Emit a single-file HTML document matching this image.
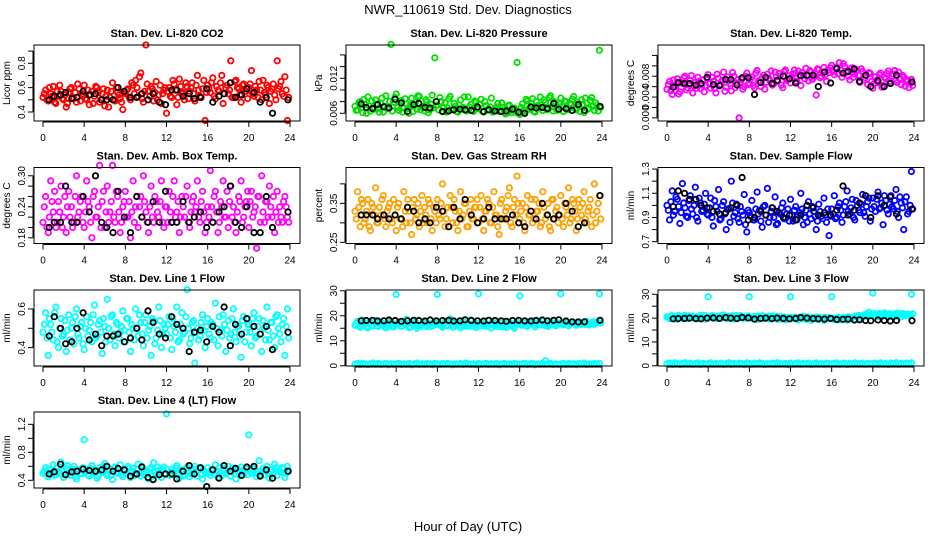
<!DOCTYPE html>
<html><head><meta charset="utf-8">
<style>
html,body{margin:0;padding:0;background:#fff;}
svg{display:block;font-family:"Liberation Sans",Arial,sans-serif;}
</style></head>
<body>
<svg id="chart" width="936" height="540" viewBox="0 0 936 540" xmlns="http://www.w3.org/2000/svg">
<text x="468" y="14" text-anchor="middle" font-size="13">NWR_110619  Std. Dev. Diagnostics</text>
<text x="468" y="531" text-anchor="middle" font-size="13">Hour of Day (UTC)</text>
</svg>
<script>
const xTicks=[0,4,8,12,16,20,24];
const blackHours=[0.6,1.1,1.7,2.2,2.8,3.3,3.9,4.5,5.1,5.7,6.2,6.8,7.3,7.9,8.5,9.1,9.6,10.2,10.7,11.3,11.9,12.5,13.0,13.6,14.2,14.7,15.3,15.9,16.5,17.1,17.6,18.2,18.7,19.3,19.8,20.5,21.1,21.7,22.3,23.8];

const co2=[.52,.58,.49,.55,.61,.47,.53,.57,.50,.44,.56,.60,.51,.48,.59,.54,
.62,.50,.46,.57,.53,.60,.48,.55,.45,.58,.52,.64,.49,.56,.51,.42,
.55,.59,.50,.62,.66,.53,.72,.48,.95,.57,.61,.49,.65,.54,.47,.58,
.39,.60,.52,.63,.46,.67,.55,.50,.61,.57,.64,.49,.70,.53,.59,.33,
.62,.56,.68,.51,.58,.64,.47,.60,.55,.82,.52,.66,.59,.48,.63,.57,
.60,.74,.53,.58,.65,.50,.56,.62,.47,.59,.54,.82,.61,.55,.69,.33];
const co2B=[.55,.50,.60,.53,.48,.57,.62,.51,.54,.47,.59,.52,.56,.63,.49,.55,
.51,.58,.54,.47,.61,.56,.50,.59,.53,.44,.57,.50,.60,.54,.48,.56,
.58,.52,.64,.55,.60,.69,.51,.57,.63,.53,.59,.56,.50,.62,.55,.60,
.57,.53,.66,.58,.52,.61,.56,.64,.51,.60,.55,.62,.58,.52,.66,.56,
.59,.64,.53,.61,.57,.70,.55,.62,.58,.52,.65,.60,.54,.62,.57,.51,
.63,.55,.61,.52,.58,.66,.54,.60,.57,.63,.50,.59,.65,.53,.58,.52];
const co2Black=[.50,.53,.54,.56,.51,.52,.57,.54,.55,.50,.50,.50,.60,.57,.52,.52,.55,.50,.55,.48,.46,.58,.58,.53,.55,.51,.52,.59,.48,.53,.55,.64,.52,.54,.59,.56,.48,.52,.39,.50];

const press=[.0072,.0066,.0080,.0061,.0075,.0088,.0064,.0070,.0083,.0068,.0077,.0062,.0090,.0071,.0178,.0079,
.0093,.0065,.0082,.0069,.0076,.0060,.0086,.0073,.0067,.0089,.0071,.0064,.0080,.0066,.0091,.0155,
.0074,.0087,.0063,.0078,.0069,.0089,.0066,.0072,.0062,.0083,.0070,.0065,.0088,.0075,.0063,.0079,
.0068,.0084,.0062,.0073,.0067,.0086,.0064,.0071,.0063,.0078,.0066,.0060,.0074,.0061,.0069,.0147,
.0058,.0076,.0063,.0081,.0067,.0085,.0062,.0073,.0088,.0065,.0079,.0070,.0090,.0064,.0077,.0069,
.0086,.0063,.0080,.0068,.0075,.0089,.0066,.0072,.0083,.0061,.0078,.0069,.0087,.0065,.0074,.0168];
const pressB=[.0065,.0078,.0070,.0084,.0060,.0073,.0081,.0067,.0075,.0062,.0086,.0072,.0068,.0080,.0064,.0087,
.0070,.0077,.0062,.0085,.0068,.0074,.0063,.0079,.0090,.0066,.0072,.0083,.0061,.0076,.0069,.0073,
.0066,.0080,.0070,.0062,.0085,.0067,.0077,.0063,.0074,.0068,.0088,.0064,.0071,.0066,.0081,.0069,
.0075,.0063,.0080,.0066,.0071,.0062,.0068,.0077,.0064,.0070,.0059,.0073,.0065,.0068,.0062,.0060,
.0070,.0065,.0084,.0068,.0077,.0063,.0080,.0069,.0074,.0083,.0066,.0087,.0071,.0080,.0065,.0076,
.0072,.0081,.0066,.0077,.0084,.0068,.0079,.0063,.0075,.0086,.0067,.0082,.0072,.0078,.0064,.0070];
const pressBlack=[.0076,.0070,.0068,.0075,.0071,.0069,.0084,.0078,.0063,.0075,.0077,.0070,.0069,.0080,.0063,.0064,.0066,.0067,.0066,.0065,.0071,.0063,.0066,.0064,.0063,.0064,.0067,.0062,.0060,.0071,.0069,.0070,.0068,.0077,.0067,.0068,.0065,.0075,.0065,.0072];

const temp=[.0055,.0070,.0045,.0062,.0075,.0050,.0066,.0080,.0058,.0072,.0048,.0068,.0078,.0056,.0073,.0062,
.0083,.0057,.0070,.0048,.0076,.0064,.0088,.0059,.0071,.0052,.0080,.0067,.0000,.0074,.0060,.0086,
.0066,.0079,.0058,.0091,.0069,.0077,.0055,.0084,.0072,.0063,.0088,.0070,.0080,.0058,.0092,.0074,
.0067,.0085,.0076,.0090,.0062,.0082,.0095,.0071,.0088,.0078,.0044,.0093,.0080,.0097,.0070,.0087,
.0101,.0083,.0094,.0106,.0078,.0099,.0088,.0073,.0096,.0084,.0092,.0068,.0089,.0077,.0064,.0085,
.0057,.0079,.0068,.0086,.0062,.0075,.0090,.0066,.0084,.0072,.0088,.0064,.0079,.0070,.0058,.0074];
const tempB=[.0064,.0052,.0073,.0060,.0046,.0068,.0077,.0054,.0065,.0081,.0061,.0057,.0070,.0063,.0050,.0076,
.0065,.0078,.0056,.0084,.0062,.0072,.0051,.0079,.0066,.0087,.0058,.0074,.0069,.0055,.0080,.0064,
.0075,.0062,.0086,.0071,.0060,.0082,.0068,.0076,.0090,.0066,.0079,.0085,.0063,.0089,.0072,.0081,
.0079,.0092,.0070,.0083,.0087,.0075,.0080,.0091,.0074,.0085,.0094,.0077,.0088,.0083,.0092,.0096,
.0089,.0097,.0085,.0092,.0104,.0088,.0080,.0095,.0078,.0090,.0082,.0094,.0073,.0081,.0087,.0070,
.0066,.0072,.0083,.0059,.0078,.0085,.0070,.0080,.0091,.0068,.0076,.0082,.0061,.0073,.0067,.0062];
const tempBlack=[.0059,.0068,.0066,.0066,.0063,.0066,.0078,.0064,.0062,.0074,.0074,.0063,.0077,.0077,.0045,.0068,.0078,.0066,.0072,.0080,.0075,.0067,.0081,.0082,.0082,.0060,.0088,.0067,.0095,.0086,.0089,.0094,.0070,.0082,.0060,.0071,.0060,.0066,.0082,.0069];

const amb=[.21,.26,.19,.29,.23,.20,.25,.28,.22,.19,.27,.24,.21,.30,.23,.26,
.20,.29,.24,.18,.27,.22,.32,.25,.20,.28,.23,.32,.21,.26,.19,.24,
.27,.22,.18,.29,.24,.20,.26,.30,.23,.19,.28,.21,.25,.22,.29,.20,
.24,.27,.21,.29,.23,.19,.26,.22,.28,.20,.25,.23,.29,.21,.27,.19,
.24,.31,.21,.27,.19,.25,.29,.22,.20,.28,.24,.19,.26,.29,.22,.25,
.20,.27,.23,.16,.26,.30,.21,.25,.28,.22,.19,.27,.24,.21,.26,.22];
const ambB=[.24,.20,.22,.25,.27,.21,.23,.20,.26,.24,.22,.20,.26,.22,.25,.21,
.23,.25,.21,.26,.22,.24,.20,.27,.23,.21,.25,.22,.27,.23,.21,.25,
.22,.25,.23,.21,.26,.24,.22,.25,.21,.24,.22,.26,.23,.25,.21,.24,
.21,.23,.26,.22,.25,.22,.24,.26,.21,.23,.26,.24,.22,.25,.23,.21,
.22,.24,.26,.23,.21,.24,.22,.27,.25,.22,.21,.23,.25,.21,.24,.27,
.25,.22,.24,.26,.21,.23,.25,.22,.24,.26,.23,.21,.22,.25,.24,.21];
const ambBlack=[.20,.21,.21,.28,.21,.21,.26,.23,.30,.21,.20,.19,.27,.22,.19,.26,.22,.21,.25,.21,.27,.21,.21,.25,.21,.22,.23,.20,.21,.23,.24,.28,.21,.20,.24,.19,.19,.26,.20,.23];

const rh=[.33,.38,.29,.35,.31,.36,.28,.34,.39,.30,.32,.37,.29,.34,.31,.36,
.28,.35,.31,.38,.30,.33,.27,.36,.32,.29,.37,.34,.30,.35,.28,.33,
.36,.31,.40,.29,.34,.37,.30,.33,.28,.38,.32,.35,.29,.36,.31,.34,
.30,.37,.28,.33,.35,.30,.38,.32,.27,.36,.31,.34,.39,.29,.36,.42,
.31,.35,.28,.37,.32,.30,.36,.33,.29,.38,.31,.35,.28,.36,.33,.30,
.37,.29,.34,.39,.31,.35,.28,.36,.32,.38,.30,.34,.29,.40,.33,.37];
const rhB=[.31,.34,.36,.30,.33,.29,.35,.32,.30,.34,.36,.31,.33,.35,.30,.32,
.34,.31,.29,.33,.36,.30,.34,.31,.35,.33,.30,.32,.36,.31,.34,.30,
.32,.35,.33,.31,.29,.34,.36,.30,.33,.31,.35,.29,.33,.31,.34,.36,
.34,.31,.33,.36,.30,.34,.32,.29,.35,.31,.33,.37,.30,.34,.32,.35,
.33,.30,.34,.32,.36,.31,.33,.35,.30,.34,.32,.29,.36,.31,.34,.32,
.31,.35,.32,.30,.36,.33,.31,.34,.35,.31,.33,.36,.32,.30,.35,.31];
const rhBlack=[.32,.32,.32,.31,.32,.31,.32,.31,.34,.33,.30,.31,.30,.34,.33,.29,.34,.31,.36,.32,.30,.31,.34,.31,.31,.31,.32,.30,.29,.33,.31,.35,.32,.31,.32,.35,.33,.29,.30,.37];

const sample=[1.00,.88,1.12,.95,1.05,.85,1.18,.98,.90,1.08,.93,1.15,.87,1.02,.96,1.10,
.92,1.06,.83,.99,1.13,.89,1.03,.80,.97,1.20,.91,1.01,.86,.95,1.09,.78,
.94,1.04,.88,1.11,.96,.82,1.00,1.14,.90,.98,1.07,.85,.93,1.02,.89,.97,
1.05,.87,.99,.92,1.10,.84,.96,1.03,.89,.95,.80,1.01,.91,1.06,.86,.75,
.97,1.08,.90,1.02,.86,.99,1.12,.93,1.05,.88,1.00,.94,1.09,.91,1.03,.87,
1.06,.95,1.11,.98,.84,1.04,.93,1.08,.97,1.13,.90,1.02,.80,1.07,.95,1.28];
const sampleB=[.96,1.03,.92,1.07,.99,.94,1.02,.91,1.04,.97,1.00,.90,1.06,.95,1.01,.93,
.98,.90,1.04,.95,.88,1.00,.93,.97,.86,1.02,.94,.89,.99,.92,.84,.96,
.91,.88,.97,.93,.87,.99,.92,.86,.95,.90,.84,.94,.98,.89,.93,.87,
.92,.96,.88,.94,.97,.90,.86,.93,.99,.91,.87,.95,.89,.92,.97,.91,
.93,.89,.99,.96,.92,1.03,.95,.98,.90,1.04,.96,1.01,.94,.99,1.06,.97,
.99,1.05,.97,1.02,1.08,.96,1.01,.99,1.04,.95,1.07,.98,1.03,.93,1.00,.97];
const sampleBlack=[.99,1.12,1.10,1.05,1.05,1.00,.98,.95,.93,.94,.98,1.00,1.23,.88,.90,.95,.92,.98,.95,.90,.92,.88,.92,1.00,.98,.92,.94,.92,.96,1.16,.92,.96,1.02,1.08,.90,1.08,1.00,1.07,.93,.97];

const line1=[.48,.58,.36,.52,.44,.61,.40,.55,.47,.38,.57,.50,.42,.60,.45,.53,
.39,.56,.49,.43,.62,.46,.54,.37,.51,.65,.44,.57,.41,.52,.48,.59,
.43,.55,.38,.50,.60,.46,.53,.41,.57,.49,.36,.54,.45,.61,.40,.52,
.47,.56,.39,.51,.61,.44,.58,.48,.70,.42,.53,.32,.50,.46,.57,.40,
.55,.45,.52,.63,.41,.49,.57,.38,.54,.47,.60,.43,.51,.35,.56,.48,
.52,.41,.58,.46,.55,.38,.50,.61,.44,.53,.40,.57,.47,.52,.36,.60];
const line1B=[.52,.45,.55,.48,.58,.43,.50,.46,.54,.49,.44,.53,.56,.47,.51,.42,
.50,.46,.53,.57,.45,.52,.48,.55,.43,.50,.56,.47,.53,.45,.51,.49,
.55,.48,.52,.44,.50,.57,.47,.53,.45,.51,.55,.42,.49,.54,.47,.50,
.52,.45,.55,.48,.43,.52,.47,.56,.50,.45,.54,.48,.44,.53,.49,.51,
.47,.53,.44,.50,.56,.46,.52,.49,.45,.55,.48,.51,.46,.54,.43,.52,
.48,.55,.45,.51,.47,.54,.44,.49,.53,.46,.56,.50,.43,.55,.51,.45];
const line1Black=[.46,.56,.50,.42,.43,.50,.58,.44,.47,.41,.46,.46,.47,.43,.45,.50,.44,.59,.53,.47,.45,.56,.52,.50,.38,.48,.49,.43,.51,.48,.61,.41,.52,.47,.55,.51,.47,.51,.39,.48];

const line2=[16.2,17.8,15.4,18.3,16.7,15.1,17.5,16.0,18.1,15.7,17.0,16.4,15.2,17.9,16.6,15.5,
28.5,17.2,15.8,16.9,18.6,15.3,17.4,16.1,15.0,18.0,16.5,17.3,15.6,16.8,15.9,17.6,
28.5,16.3,15.4,17.7,16.0,18.8,15.5,17.1,16.6,15.2,17.9,16.2,15.8,18.4,16.9,15.3,
28.8,17.4,15.9,16.5,18.2,15.1,17.0,16.3,15.6,17.8,16.0,15.4,17.3,16.7,15.0,17.5,
28.0,16.2,17.6,15.8,16.9,18.0,15.5,17.2,16.4,17.9,16.1,15.7,17.4,16.6,16.0,17.1,
28.8,16.4,17.7,16.0,16.8,17.3,16.2,17.5,16.5,16.9,17.8,16.3,17.0,16.6,17.4,28.8];
const line2B=[17.0,15.8,16.5,17.4,15.6,16.9,16.2,17.6,15.9,16.7,17.2,15.5,16.4,17.1,15.7,16.8,
16.3,17.5,15.9,16.6,17.0,15.4,16.8,17.3,16.0,15.7,16.9,17.4,16.2,15.8,17.1,16.5,
17.2,15.9,16.7,16.1,17.5,16.4,15.6,16.9,17.3,16.0,15.8,17.0,16.6,15.9,17.4,16.3,
16.0,16.8,17.2,15.7,16.5,17.6,15.9,16.4,17.1,15.6,16.9,17.3,16.1,15.8,16.7,17.0,
16.6,17.3,16.0,16.8,17.4,16.2,16.9,17.5,16.3,16.7,17.1,16.4,17.6,16.5,17.2,16.8,
17.0,16.6,17.4,16.9,17.1,16.7,17.5,16.8,17.2,16.5,17.3,16.9,17.6,17.0,17.4,17.1];
const line2Low=[0.6,0.9,0.5,1.0,0.7,0.4,0.8,1.1,0.6,0.9,0.5,0.7,1.0,0.4,0.8,0.6,
0.7,1.0,0.5,0.8,0.6,0.9,0.4,0.7,1.1,0.5,0.8,0.6,0.9,0.7,0.4,1.0,
0.8,0.5,0.9,0.6,1.0,0.7,0.4,0.8,0.6,0.9,0.5,1.1,0.7,0.6,0.8,0.4,
0.9,0.6,0.7,1.0,0.5,0.8,0.6,0.9,0.4,0.7,1.0,0.6,0.8,0.5,0.9,0.7,
0.6,0.8,1.0,0.5,0.7,0.9,0.4,0.8,0.6,1.0,2.0,0.7,0.9,0.5,0.8,0.6,
0.7,0.9,0.5,1.0,0.6,0.8,0.4,0.9,0.7,1.1,0.5,0.8,0.6,0.9,0.7,1.0];
const line2Black=[18.0,18.1,18.2,17.9,18.0,18.3,18.1,17.8,18.0,18.2,18.1,17.9,18.3,18.0,18.1,18.2,17.9,18.0,18.4,18.1,18.0,17.9,18.2,18.1,18.0,17.8,18.1,18.2,18.0,17.9,18.1,18.3,18.0,18.2,18.4,17.9,17.6,17.5,17.6,18.2];

const line3=[20.5,19.8,21.0,20.2,19.5,20.8,20.0,21.2,19.7,20.4,20.9,19.9,20.6,21.1,20.1,19.6,
29.0,20.3,21.0,19.8,20.7,20.1,21.3,19.9,20.5,20.8,19.6,21.1,20.2,20.6,19.9,20.4,
29.0,20.0,20.7,19.4,20.3,21.0,19.8,20.5,19.6,20.9,20.1,19.5,20.6,20.2,19.3,20.0,
29.0,19.7,20.4,19.2,20.0,20.7,19.5,20.3,19.1,19.9,20.5,19.4,20.1,19.0,19.8,20.2,
29.0,19.4,20.0,19.2,19.8,20.4,19.1,19.7,20.2,19.3,20.6,19.9,21.0,20.5,21.3,20.8,
30.5,21.2,20.6,21.5,20.9,21.7,20.4,21.1,21.6,20.7,21.3,20.5,21.8,21.0,21.4,30.0];
const line3B=[20.2,20.9,19.9,20.6,21.1,20.3,19.8,20.7,21.0,20.1,20.5,19.7,20.8,20.4,21.2,20.0,
20.6,21.0,20.2,19.9,20.8,21.2,20.4,20.7,19.8,21.0,20.3,20.6,21.1,20.0,20.5,20.9,
20.3,19.7,20.6,20.9,20.1,19.9,20.4,20.8,19.8,20.2,20.7,20.0,19.6,20.5,20.1,20.3,
20.2,20.0,19.6,20.4,19.8,20.1,20.5,19.7,20.3,20.0,19.6,20.2,19.9,20.4,20.1,19.7,
19.9,19.6,20.3,19.8,20.1,19.7,20.5,20.0,20.4,20.9,21.1,20.7,21.4,21.8,22.5,21.6,
21.9,21.3,22.0,21.6,22.2,21.4,21.8,21.2,21.7,22.1,21.5,21.9,21.3,21.7,21.4,21.8];
const line3Low=[0.8,1.1,0.6,1.2,0.9,0.5,1.0,1.3,0.7,1.1,0.6,0.9,1.2,0.5,1.0,0.8,
0.9,1.2,0.6,1.0,0.7,1.1,0.5,0.9,1.3,0.6,1.0,0.8,1.1,0.9,0.5,1.2,
1.0,0.6,1.1,0.8,1.2,0.9,0.5,1.0,0.7,1.1,0.6,1.3,0.9,0.8,1.0,0.5,
1.1,0.7,0.9,1.2,0.6,1.0,0.8,1.1,0.5,0.9,1.2,0.7,1.0,0.6,1.1,0.9,
0.8,1.0,1.2,0.6,0.9,1.1,0.5,1.0,0.7,1.2,0.8,0.9,1.1,0.6,1.0,0.8,
0.9,1.1,0.6,1.2,0.7,1.0,0.5,1.1,0.9,1.3,0.6,1.0,0.8,1.1,0.9,1.2];
const line3Black=[19.7,19.8,19.9,20.0,19.8,19.7,20.0,20.1,19.9,20.2,20.0,19.8,20.3,20.1,19.6,19.9,20.0,19.8,20.0,19.9,19.7,19.9,20.2,20.0,19.8,19.7,19.6,19.9,19.4,19.5,19.6,19.2,19.3,19.0,18.9,19.2,19.0,18.8,19.0,18.9];

const line4=[.50,.58,.45,.55,.62,.48,.53,.66,.44,.57,.51,.47,.60,.42,.54,.49,
.98,.56,.46,.61,.50,.43,.58,.52,.64,.47,.55,.41,.59,.50,.62,.45,
.53,.60,.44,.57,.49,.63,.46,.55,.51,.42,.58,.65,.48,.54,.44,.59,
1.35,.47,.56,.50,.61,.43,.55,.48,.59,.45,.53,.60,.46,.57,.42,.52,
.58,.47,.54,.62,.44,.51,.57,.49,.60,.46,.55,.42,.52,.59,.48,.56,
1.05,.50,.57,.45,.68,.53,.48,.60,.43,.55,.63,.47,.52,.58,.44,.60];
const line4B=[.53,.49,.56,.51,.47,.59,.50,.54,.48,.61,.52,.56,.45,.55,.50,.58,
.52,.48,.57,.51,.55,.46,.53,.60,.49,.54,.47,.58,.52,.56,.48,.55,
.50,.57,.52,.47,.55,.50,.60,.48,.53,.56,.46,.51,.59,.50,.55,.49,
.55,.52,.48,.58,.50,.54,.46,.57,.51,.49,.56,.52,.58,.48,.54,.50,
.51,.56,.49,.53,.58,.47,.55,.51,.53,.57,.49,.56,.50,.54,.52,.48,
.54,.58,.50,.52,.48,.57,.55,.50,.53,.49,.58,.54,.51,.56,.50,.53];
const line4Black=[.49,.52,.63,.48,.52,.53,.56,.54,.53,.55,.60,.53,.57,.55,.46,.49,.59,.44,.41,.48,.49,.49,.42,.53,.61,.49,.58,.31,.55,.43,.61,.53,.57,.47,.59,.60,.46,.55,.43,.53];

const panels=[
 {id:'co2',title:'Stan. Dev. Li-820 CO2',ylab:'Licor ppm',col:0,row:0,dom:[0.326,0.95],ticks:[0.4,0.5,0.6,0.7,0.8,0.9],labels:['0.4','0.6','0.8'],labelVals:[0.4,0.6,0.8],color:'#ff0000',series:[co2,co2B],black:co2Black},
 {id:'pressure',title:'Stan. Dev. Li-820 Pressure',ylab:'kPa',col:1,row:0,dom:[0.00468,0.0177],ticks:[0.006,0.008,0.010,0.012,0.014,0.016],labels:['0.006','0.012'],labelVals:[0.006,0.012],color:'#00e000',series:[press,pressB],black:pressBlack},
 {id:'temp',title:'Stan. Dev. Li-820 Temp.',ylab:'degrees C',col:2,row:0,dom:[-0.0006,0.014],ticks:[0,0.002,0.004,0.006,0.008,0.010,0.012],labels:['0.000','0.004','0.008'],labelVals:[0,0.004,0.008],color:'#ff00ff',series:[temp,tempB],black:tempBlack},
 {id:'ambbox',title:'Stan. Dev. Amb. Box Temp.',ylab:'degrees C',col:0,row:1,dom:[0.169,0.316],ticks:[0.18,0.20,0.22,0.24,0.26,0.28,0.30],labels:['0.18','0.24','0.30'],labelVals:[0.18,0.24,0.30],color:'#ff00ff',series:[amb,ambB],black:ambBlack},
 {id:'rh',title:'Stan. Dev. Gas Stream RH',ylab:'percent',col:1,row:1,dom:[0.247,0.442],ticks:[0.25,0.30,0.35,0.40],labels:['0.25','0.35'],labelVals:[0.25,0.35],color:'#ffa000',series:[rh,rhB],black:rhBlack},
 {id:'sampleflow',title:'Stan. Dev. Sample Flow',ylab:'ml/min',col:2,row:1,dom:[0.685,1.313],ticks:[0.7,0.8,0.9,1.0,1.1,1.2,1.3],labels:['0.7','0.9','1.1','1.3'],labelVals:[0.7,0.9,1.1,1.3],color:'#0000ff',series:[sample,sampleB],black:sampleBlack},
 {id:'line1',title:'Stan. Dev. Line 1 Flow',ylab:'ml/min',col:0,row:2,dom:[0.305,0.698],ticks:[0.4,0.5,0.6],labels:['0.4','0.6'],labelVals:[0.4,0.6],color:'#00ffff',series:[line1,line1B],black:line1Black},
 {id:'line2',title:'Stan. Dev. Line 2 Flow',ylab:'ml/min',col:1,row:2,dom:[-0.1,30.3],ticks:[0,5,10,15,20,25,30],labels:['0','10','20','30'],labelVals:[0,10,20,30],color:'#00ffff',series:[line2,line2B,line2Low],black:line2Black},
 {id:'line3',title:'Stan. Dev. Line 3 Flow',ylab:'ml/min',col:2,row:2,dom:[-0.1,31.8],ticks:[0,5,10,15,20,25,30],labels:['0','10','20','30'],labelVals:[0,10,20,30],color:'#00ffff',series:[line3,line3B,line3Low],black:line3Black},
 {id:'line4',title:'Stan. Dev. Line 4 (LT) Flow',ylab:'ml/min',col:0,row:3,dom:[0.29,1.376],ticks:[0.4,0.6,0.8,1.0,1.2],labels:['0.4','0.8','1.2'],labelVals:[0.4,0.8,1.2],color:'#00ffff',series:[line4,line4B],black:line4Black}
];

const NS='http://www.w3.org/2000/svg';
const svg=document.getElementById('chart');
function mk(tag,attrs,parent){const e=document.createElementNS(NS,tag);for(const k in attrs)e.setAttribute(k,attrs[k]);(parent||svg).appendChild(e);return e;}
const colX=[34,346,658],rowY=[45,167.5,290,412],W=266,H=76;
const xDom=[-0.875,24.97];

panels.forEach(p=>{
  const L=colX[p.col],T=rowY[p.row];
  const g=mk('g',{});
  
  
  const xs=v=>L+(v-xDom[0])/(xDom[1]-xDom[0])*W;
  const ys=v=>T+H-(v-p.dom[0])/(p.dom[1]-p.dom[0])*H;
  const t=mk('text',{x:L+W/2,y:T-8,'text-anchor':'middle','font-size':'11','font-weight':'bold'},g);
  t.textContent=p.title;
  
  
  const pts=mk('g',{fill:'none',stroke:p.color,'stroke-width':'1.8'},g);
  
  
  p.series.forEach((arr,k)=>arr.forEach((v,i)=>{
    const c=mk('circle',{cx:xs((i+(k%2)*0.5)/4).toFixed(1),cy:ys(v).toFixed(1),r:'2.7'},pts);
    
    
  }));
  const bp=mk('g',{fill:'none',stroke:'#000','stroke-width':'1.8'},g);
  
  
  p.black.forEach((v,i)=>{
    const c=mk('circle',{cx:xs(blackHours[i]).toFixed(1),cy:ys(v).toFixed(1),r:'2.7'},bp);
    
    
  });
  const box=mk('rect',{x:L,y:T,width:W,height:H,fill:'none',stroke:'#000','stroke-width':'1'},g);
  
  
  const xa=mk('g',{},g);
  
  
  mk('line',{x1:xs(xTicks[0]),x2:xs(xTicks[xTicks.length-1]),y1:T+H+1,y2:T+H+1,stroke:'#000'},xa);
  xTicks.forEach(v=>{
    mk('line',{x1:xs(v),x2:xs(v),y1:T+H+1,y2:T+H+6,stroke:'#000'},xa);
    const tl=mk('text',{x:xs(v),y:T+H+20,'text-anchor':'middle','font-size':'10'},xa);
    tl.textContent=String(v);
    
    
  });
  const ya=mk('g',{},g);
  
  
  mk('line',{x1:L-1,x2:L-1,y1:ys(p.ticks[0]),y2:ys(p.ticks[p.ticks.length-1]),stroke:'#000'},ya);
  p.ticks.forEach(v=>mk('line',{x1:L-1,x2:L-6,y1:ys(v),y2:ys(v),stroke:'#000'},ya));
  p.labelVals.forEach((v,i)=>{
    const x=L-9,y=ys(v);
    const tl=mk('text',{x:x,y:y,'text-anchor':'middle','font-size':'10',transform:`rotate(-90 ${x} ${y})`},ya);
    tl.textContent=p.labels[i];
    
    
  });
  const yx=L-24,yy=T+H/2;
  const yl=mk('text',{x:yx,y:yy,'text-anchor':'middle','font-size':'10',transform:`rotate(-90 ${yx} ${yy})`},g);
  yl.textContent=p.ylab;
  
  
});
</script>
</body></html>
